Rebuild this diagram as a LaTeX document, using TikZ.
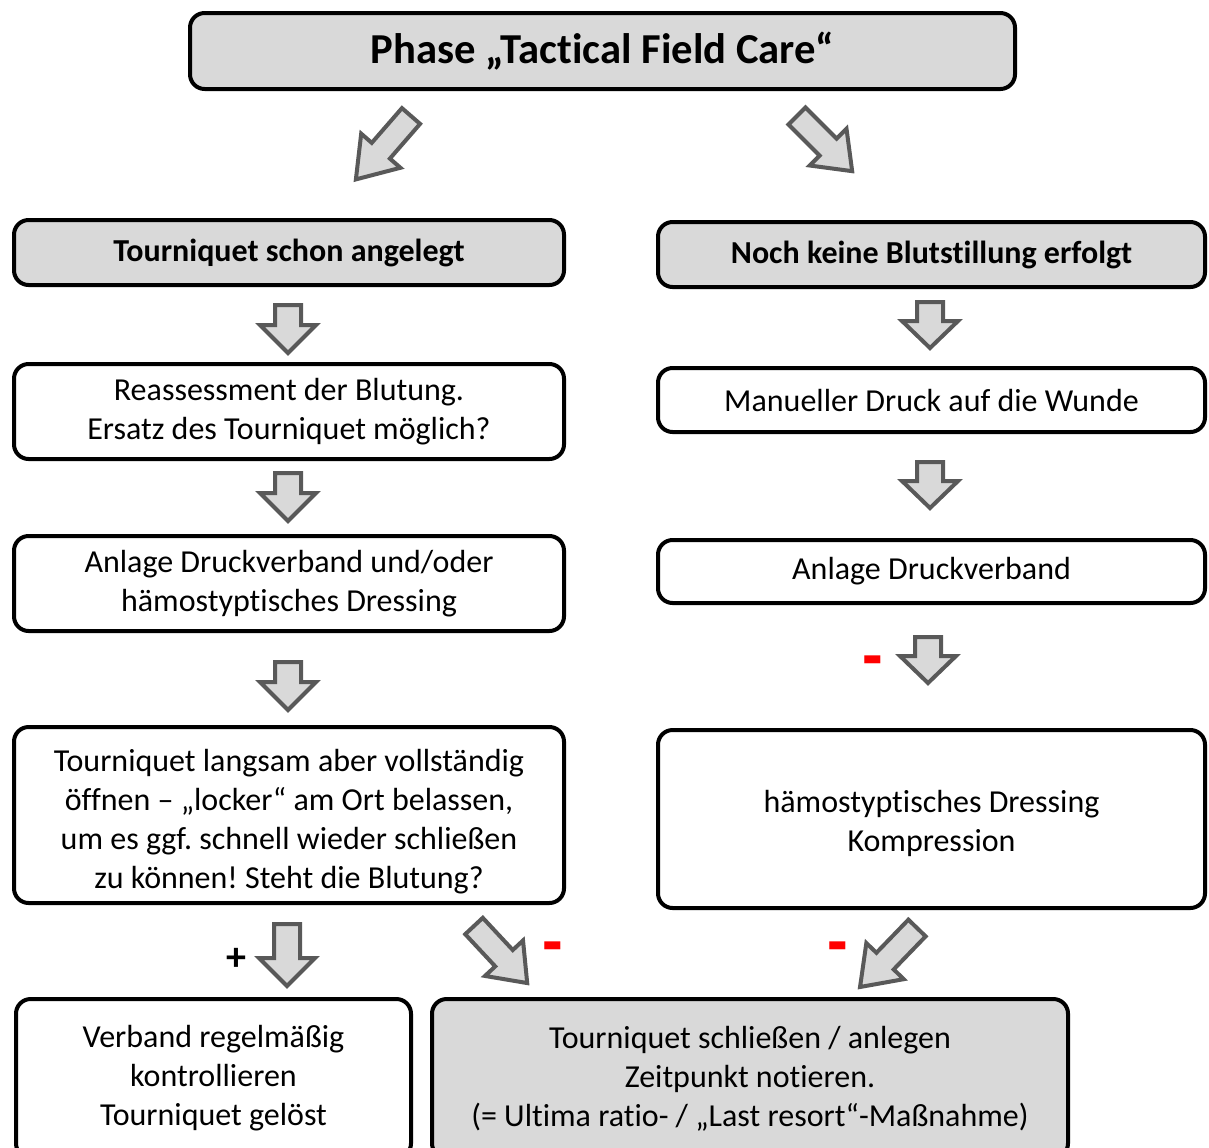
\documentclass[tikz,border=0pt]{standalone}
\usepackage{fontspec}
\setmainfont{Carlito}[Ligatures=NoCommon]
\definecolor{boxgray}{HTML}{D9D9D9}
\definecolor{arrgray}{HTML}{595959}
\newcommand\barrow[7]{% x, y, rotation, length, head length, shaft half, head half
  \draw[arr,shift={(#1,#2)},rotate=#3] (-#6,0) -- (#6,0) -- (#6,{#4-#5}) -- (#7,{#4-#5}) -- (0,#4) -- (-#7,{#4-#5}) -- (-#6,{#4-#5}) -- cycle;}
\newcommand\bx[7]{% name, style, x1, y1, x2, y2, text
  \pgfmathsetmacro\bxw{(#5-#3)*0.75}\pgfmathsetmacro\bxh{(#6-#4)*0.75}%
  \node[#2,minimum width=\bxw pt,minimum height=\bxh pt] (#1) at ({(#3+#5)/2},{(#4+#6)/2}) {#7};}
\frenchspacing
\begin{document}
\begin{tikzpicture}[x=0.75pt,y=-0.75pt,
  box/.style={draw=black,line width=3pt,rounded corners=11pt,inner sep=0pt,align=center,
    font=\fontsize{24}{29.3}\selectfont},
  graybox/.style={box,fill=boxgray},
  head/.style={graybox,font=\bfseries\fontsize{24}{29.3}\selectfont},
  titlebox/.style={graybox,font=\bfseries\fontsize{32}{36}\selectfont},
  txt/.style={inner sep=0pt,align=center,font=\fontsize{24}{29.3}\selectfont},
  arr/.style={draw=arrgray,fill=boxgray,line width=3pt,line join=miter},
  minus/.style={text=red,inner sep=0pt,font=\bfseries\fontsize{34}{34}\selectfont},
  plus/.style={text=black,inner sep=0pt,font=\bfseries\fontsize{30}{30}\selectfont}]
\useasboundingbox (0,0) rectangle (1209,1147);
\clip (0,0) rectangle (1209,1147);
\fill[white] (0,0) rectangle (1209,1147);
% title
\bx{title}{titlebox}{190}{13}{1015}{89}{Phase „Tactical Field Care“}
% left column
\bx{l1}{head}{14}{220}{564}{285}{Tourniquet schon angelegt}
\bx{l2}{box}{14}{364}{564}{459}{Reassessment der Blutung.\\Ersatz des Tourniquet möglich?}
\bx{l3}{box}{14}{536}{564}{631}{Anlage Druckverband und/oder\\hämostyptisches Dressing}
\bx{l4}{box}{14}{727}{564}{903}{}
\node[txt] (l4t) at ([yshift=-5pt]l4.center) {Tourniquet langsam aber vollständig\\öffnen – „locker“ am Ort belassen,\\um es ggf. schnell wieder schließen\\zu können! Steht die Blutung?};
\bx{l5}{box}{16}{999}{411}{1158}{Verband regelmäßig\\kontrollieren\\Tourniquet gelöst}
% right column
\bx{r1}{head}{658}{222}{1205}{287}{Noch keine Blutstillung erfolgt}
\bx{r2}{box}{658}{368}{1205}{432}{Manueller Druck auf die Wunde}
\bx{r3}{box}{658}{540}{1205}{603}{Anlage Druckverband}
\bx{r4}{box}{658}{730}{1205}{908}{}
\node[txt] (r4t) at ([yshift=-3pt]r4.center) {hämostyptisches Dressing\\Kompression};
% bottom
\bx{b}{graybox}{432}{999}{1068}{1158}{Tourniquet schließen / anlegen\\Zeitpunkt notieren.\\(= Ultima ratio- / „Last resort“-Maßnahme)}
% block arrows
\barrow{411}{116}{-41}{84}{38}{12}{26}
\barrow{797}{116}{45}{78}{34}{12}{26}
\barrow{288}{305}{0}{48}{28}{13}{28}
\barrow{288}{473}{0}{48}{28}{13}{28}
\barrow{288}{662}{0}{48}{28}{13}{28}
\barrow{287}{924}{0}{62}{28}{13}{28}
\barrow{930}{302}{0}{46}{27}{13}{28}
\barrow{930}{462}{0}{46}{27}{13}{28}
\barrow{928}{637}{0}{46}{27}{13}{28}
\barrow{474}{926}{43}{78}{34}{12}{26}
\barrow{917}{928}{-44}{82}{36}{12}{26}
% signs
\node[minus] (m1) at (873,671) {\scalebox{1}[2]{–}};
\node[minus] (m2) at (553,957) {\scalebox{1}[2]{–}};
\node[minus] (m3) at (838,957) {\scalebox{1}[2]{–}};
\node[plus] (p1) at (236,959) {+};
\end{tikzpicture}
\end{document}
